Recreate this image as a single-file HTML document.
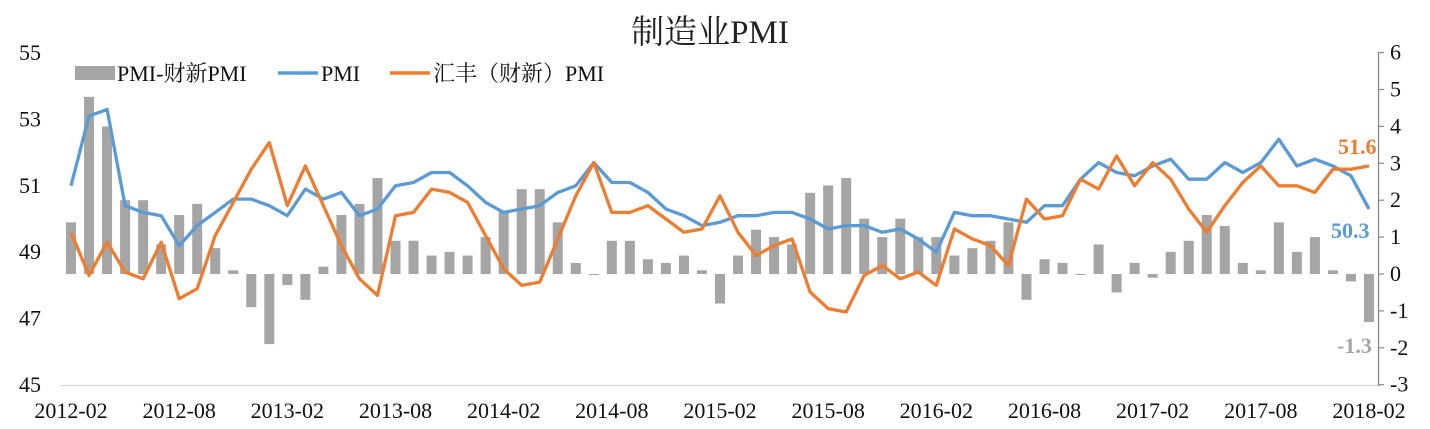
<!DOCTYPE html>
<html><head><meta charset="utf-8">
<style>
html,body{margin:0;padding:0;background:#fff;}
svg text{font-family:"Liberation Serif","Noto Serif CJK SC",serif;}
</style></head>
<body>
<svg id="c" width="1430" height="424" xmlns="http://www.w3.org/2000/svg">
<rect width="1430" height="424" fill="#fff"/>
<text x="710" y="43" font-size="33" text-anchor="middle" fill="#222">制造业PMI</text>
<line x1="60" y1="385.5" x2="1378" y2="385.5" stroke="#d9d9d9" stroke-width="1.3"/>
<line x1="1378.5" y1="53" x2="1378.5" y2="386" stroke="#888" stroke-width="1.3"/>
<g id="g"></g>
<rect x="75" y="66" width="40" height="14" fill="#a5a5a5"/>
<text x="117" y="81" font-size="22" fill="#111">PMI-财新PMI</text>
<line x1="278" y1="73" x2="318" y2="73" stroke="#5b9bd5" stroke-width="3.5"/>
<text x="321" y="81" font-size="22" fill="#111">PMI</text>
<line x1="390" y1="73" x2="430" y2="73" stroke="#ed7d31" stroke-width="3.5"/>
<text x="433" y="81" font-size="22" fill="#111">汇丰（财新）PMI</text>
<text x="1338" y="154" font-size="22" font-weight="bold" fill="#ed7d31">51.6</text>
<text x="1331" y="238" font-size="22" font-weight="bold" fill="#5b9bd5">50.3</text>
<text x="1337" y="353" font-size="22" font-weight="bold" fill="#a5a5a5">-1.3</text>
</svg>
<script>
var pmi=[51.0,53.1,53.3,50.4,50.2,50.1,49.2,49.8,50.2,50.6,50.6,
50.4,50.1,50.9,50.6,50.8,50.1,50.3,51.0,51.1,51.4,51.4,51.0,
50.5,50.2,50.3,50.4,50.8,51.0,51.7,51.1,51.1,50.8,50.3,50.1,
49.8,49.9,50.1,50.1,50.2,50.2,50.0,49.7,49.8,49.8,49.6,49.7,
49.4,49.0,50.2,50.1,50.1,50.0,49.9,50.4,50.4,51.2,51.7,51.4,
51.3,51.6,51.8,51.2,51.2,51.7,51.4,51.7,52.4,51.6,51.8,51.6,
51.3,50.3];
var cx=[49.6,48.3,49.3,48.4,48.2,49.3,47.6,47.9,49.5,50.5,51.5,
52.3,50.4,51.6,50.4,49.2,48.2,47.7,50.1,50.2,50.9,50.8,50.5,
49.5,48.5,48.0,48.1,49.4,50.7,51.7,50.2,50.2,50.4,50.0,49.6,
49.7,50.7,49.6,48.9,49.2,49.4,47.8,47.3,47.2,48.3,48.6,48.2,
48.4,48.0,49.7,49.4,49.2,48.6,50.6,50.0,50.1,51.2,50.9,51.9,
51.0,51.7,51.2,50.3,49.6,50.4,51.1,51.6,51.0,51.0,50.8,51.5,
51.5,51.6];
var NS="http://www.w3.org/2000/svg",g=document.getElementById("g");
function el(t,a,txt){var e=document.createElementNS(NS,t);for(var k in a)e.setAttribute(k,a[k]);if(txt!==undefined)e.textContent=txt;g.appendChild(e);return e;}
var x0=62,cw=(1378-62)/73;
function X(i){return x0+cw*(i+0.5);}
function YL(v){return 385-(v-45)*33.2;}
function YR(v){return 274-v*36.9;}
for(var v=45;v<=55;v+=2)el("text",{x:41,y:YL(v)+7,"font-size":22,"text-anchor":"end",fill:"#111"},v);
for(var r=-3;r<=6;r++){el("line",{x1:1378,y1:YR(r),x2:1384,y2:YR(r),stroke:"#888","stroke-width":1.2});el("text",{x:1390,y:YR(r)+7,"font-size":22,fill:"#111"},r);}
var labs=["2012-02","2012-08","2013-02","2013-08","2014-02","2014-08","2015-02","2015-08","2016-02","2016-08","2017-02","2017-08","2018-02"];
for(var i=0;i<13;i++)el("text",{x:X(i*6),y:418,"font-size":22,"text-anchor":"middle",fill:"#111"},labs[i]);
for(var i=0;i<73;i++){var d=Math.round((pmi[i]-cx[i])*10)/10;var y=YR(Math.max(d,0)),h=Math.abs(d)*36.9;if(h<1)h=1;el("rect",{x:X(i)-5,y:y,width:10,height:h,fill:"#a5a5a5"});}
function line(a,c){var p=a.map(function(v,i){return X(i).toFixed(1)+","+YL(v).toFixed(1)}).join(" ");el("polyline",{points:p,fill:"none",stroke:c,"stroke-width":3.3,"stroke-linejoin":"round"});}
line(pmi,"#5b9bd5");line(cx,"#ed7d31");
</script>
</body></html>
